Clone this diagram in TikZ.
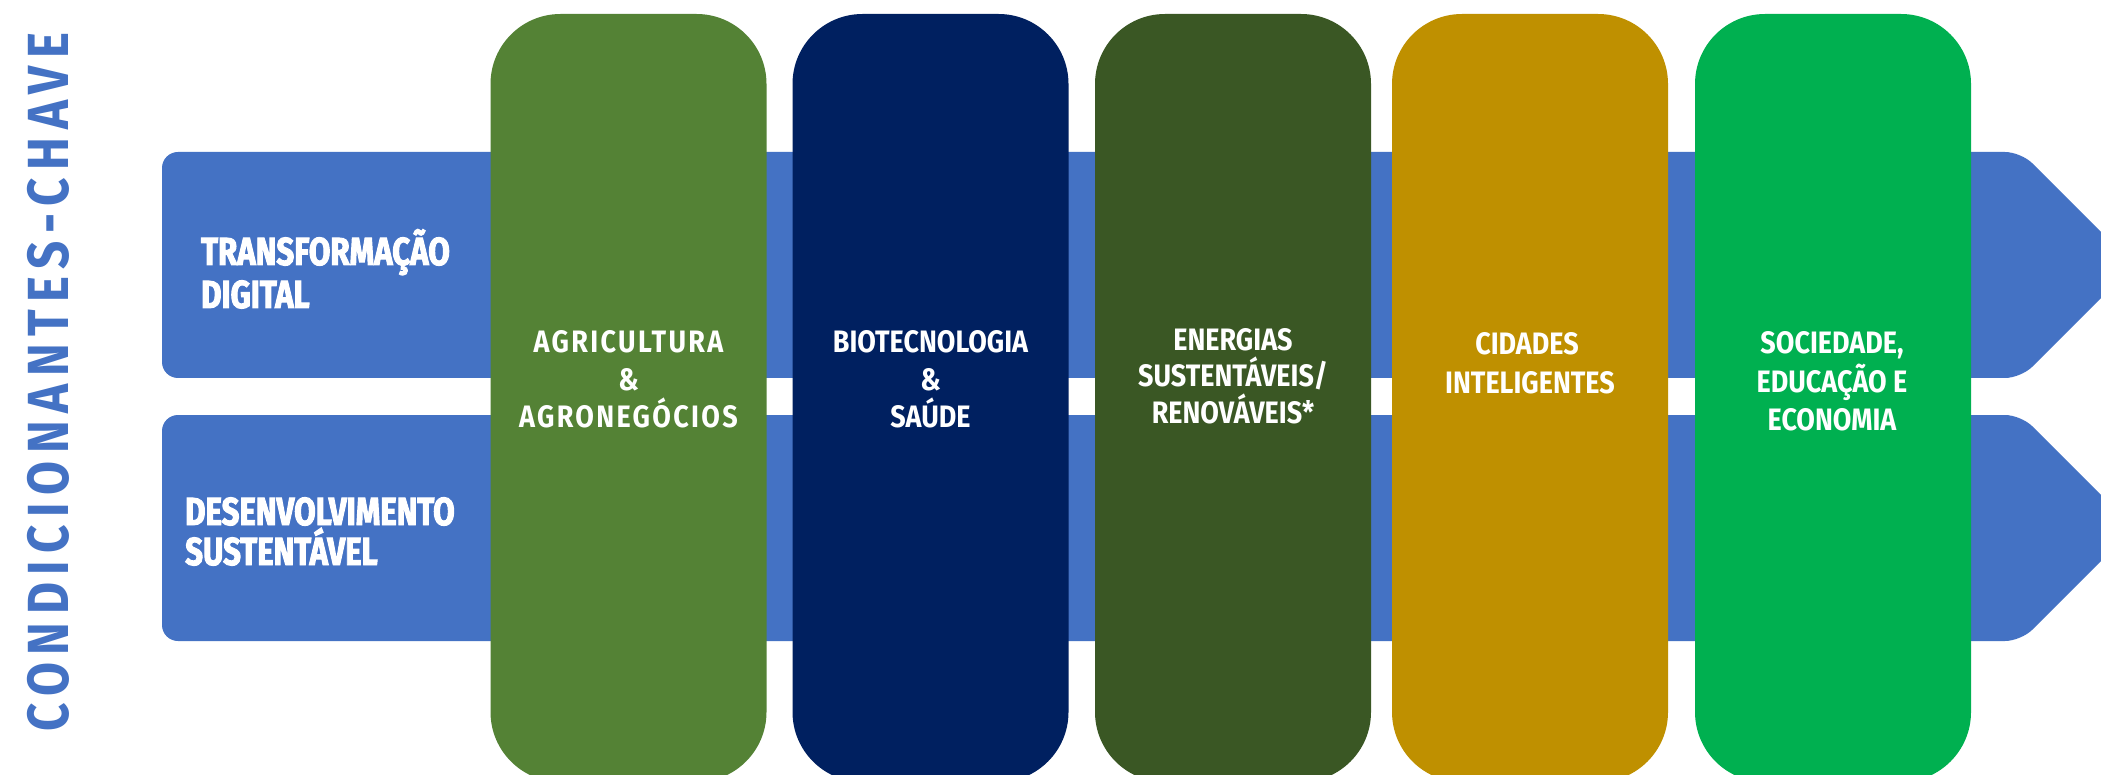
\documentclass[tikz,border=0pt]{standalone}
\usepackage{fontspec}
\setmainfont{Fira Sans}
\newfontfamily\condA{Fira Sans}[FakeStretch=0.87]
\newfontfamily\condAsp{Fira Sans}[FakeStretch=0.87,LetterSpace=7.5]
\newfontfamily\condB{Fira Sans}[FakeStretch=0.8,FakeBold=2.5]
\newfontfamily\condV{Fira Sans}[FakeStretch=0.85,LetterSpace=13]
\definecolor{cblue}{HTML}{4472C4}
\definecolor{pgreen}{HTML}{548235}
\definecolor{pnavy}{HTML}{002060}
\definecolor{pdkgreen}{HTML}{3A5724}
\definecolor{pgold}{HTML}{BF9000}
\definecolor{pbright}{HTML}{00B050}
\tikzset{
  pillar/.style={minimum width=276pt, minimum height=768pt, rounded corners=70pt, inner sep=0pt, draw=none},
  plabel/.style={anchor=base, inner sep=0pt, text=white, font=\condA\bfseries\fontsize{31}{37}\selectfont},
  plabelsp/.style={plabel, font=\condAsp\bfseries\fontsize{31}{37}\selectfont},
  llabel/.style={anchor=base west, inner sep=0pt, text=white, font=\condB\bfseries\fontsize{39}{43}\selectfont},
  band/.style={fill=cblue, rounded corners=16pt}
}
\begin{document}
\begin{tikzpicture}[x=1pt,y=-1pt]
\clip (0,0) rectangle (2101,775);
\fill[white] (0,0) rectangle (2101,775);
% bands (arrows)
\fill[band] (162,152) -- (2021,152) -- (2134,265) -- (2021,378) -- (162,378) -- cycle;
\fill[band] (162,415) -- (2021,415) -- (2134,528) -- (2021,641) -- (162,641) -- cycle;
% vertical title
\node[rotate=90, inner sep=0pt, text=cblue, font=\condV\bfseries\fontsize{58}{60}\selectfont] (title) at (48,382) {CONDICIONANTES-CHAVE};
% left labels
\node[llabel] (td1) at (201,265) {TRANSFORMAÇÃO};
\node[llabel] (td2) at (201,308) {DIGITAL};
\node[llabel] (ds1) at (185,525) {DESENVOLVIMENTO};
\node[llabel] (ds2) at (185,565) {SUSTENTÁVEL};
% pillars
\node[pillar, fill=pgreen] (p1) at (628.5,398) {};
\node[pillar, fill=pnavy] (p2) at (930.5,398) {};
\node[pillar, fill=pdkgreen] (p3) at (1233,398) {};
\node[pillar, fill=pgold] (p4) at (1530,398) {};
\node[pillar, fill=pbright] (p5) at (1833,398) {};
% pillar labels
\node[plabelsp] (a1) at (628.5,353) {AGRICULTURA};
\node[plabel] (a2) at (628.5,390) {\&};
\node[plabelsp] (a3) at (628.5,427) {AGRONEGÓCIOS};
\node[plabel] (b1) at (930.5,353) {BIOTECNOLOGIA};
\node[plabel] (b2) at (930.5,390) {\&};
\node[plabel] (b3) at (930.5,427) {SAÚDE};
\node[plabel] (c1) at (1233,351) {ENERGIAS};
\node[plabel] (c2) at (1233,387) {SUSTENTÁVEIS/};
\node[plabel] (c3) at (1233,423) {RENOVÁVEIS*};
\node[plabel] (d1) at (1527,355) {CIDADES};
\node[plabel] (d2) at (1530,393) {INTELIGENTES};
\node[plabel] (e1) at (1832,354) {SOCIEDADE,};
\node[plabel] (e2) at (1832,392) {EDUCAÇÃO E};
\node[plabel] (e3) at (1832,430) {ECONOMIA};
\end{tikzpicture}
\end{document}
